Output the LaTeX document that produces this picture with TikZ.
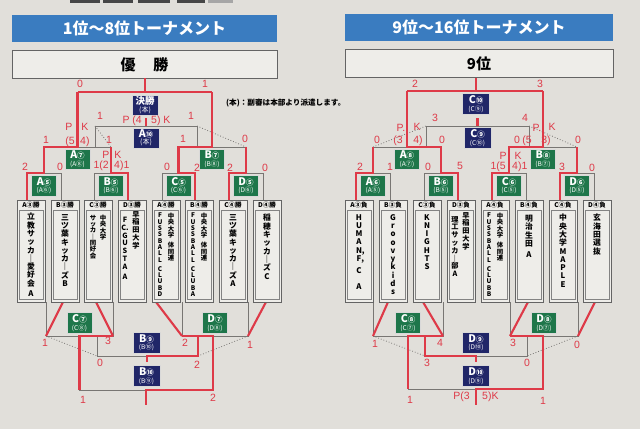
\documentclass[tikz,border=0pt]{standalone}
\usepackage{fontspec}
\setmainfont{Noto Sans CJK JP}
\newfontfamily\handfont{Liberation Sans}
\definecolor{paper}{RGB}{225,223,218}
\definecolor{hdrblue}{RGB}{58,124,192}
\definecolor{navyc}{RGB}{32,38,104}
\definecolor{greenc}{RGB}{30,118,74}
\definecolor{redm}{RGB}{222,58,72}
\definecolor{lineg}{RGB}{120,118,115}
\definecolor{boxfill}{RGB}{238,237,233}
\definecolor{boxline}{RGB}{100,100,100}
\tikzset{
 hdr/.style={fill=hdrblue, text=white, font=\fontsize{16}{16}\selectfont\bfseries, minimum height=27pt, inner sep=0},
 resbox/.style={fill=boxfill, draw=boxline, line width=0.7pt, minimum height=28pt, inner sep=0, font=\fontsize{15}{15}\selectfont\bfseries},
 tag/.style={minimum width=25pt, minimum height=21pt, inner sep=0, text=white, align=center, draw=white!70!gray, line width=0.4pt, font=\fontsize{8}{8.5}\selectfont},
 ntag/.style={tag, fill=navyc},
 gtag/.style={tag, fill=greenc},
 team/.style={draw=boxline, fill=boxfill, minimum width=28pt, minimum height=102pt, inner sep=0, line width=0.5pt},
 tlabel/.style={font=\fontsize{6.5}{6.5}\selectfont\bfseries, inner sep=0},
 innerbox/.style={draw=boxline!80, line width=0.4pt},
 vtext/.style={anchor=north, align=center, inner sep=0, font=\fontsize{7.8}{8.3}\selectfont\bfseries},
 vmid/.style={anchor=north, align=center, inner sep=0, font=\fontsize{7.2}{7.8}\selectfont\bfseries},
 vsmall/.style={anchor=north, align=center, inner sep=0, font=\fontsize{6.4}{6.3}\selectfont\bfseries},
 ln/.style={draw=lineg, line width=0.7pt},
 rl/.style={draw=redm, line width=2.1pt},
 dots/.style={draw=lineg, line width=0.8pt, dotted},
 hw/.style={text=redm, inner sep=0, font=\handfont\fontsize{10.5}{10.5}\selectfont},
}
\newcommand\tagtxt[3]{{\fontsize{10.5}{10}\selectfont\bfseries #1{\fontsize{7.5}{7}\selectfont #2}}\\[-1pt]{\fontsize{6.5}{7}\selectfont (#1#3)}}
\newcommand\mkteam[3]{%
  \node[team] (#1) at (#2,251) {};
  \node[tlabel] (#1l) at (#2,205) {#3};
  \draw[innerbox] (#2-12,210) rectangle (#2+12,299.5);
}
\begin{document}
\begin{tikzpicture}[x=1pt,y=-1pt]
\fill[paper] (0,0) rectangle (640,429);
\useasboundingbox (0,0) rectangle (640,429);
% cut-off items at top edge
\fill[gray!55!black] (70,0) rectangle (100,3);
\fill[gray!55!black] (103,0) rectangle (133,3);
\fill[gray!55!black] (138,0) rectangle (170,3);
\fill[gray!55!black] (177,0) rectangle (205,3);
\fill[gray!70] (208,0) rectangle (233,3);

% headers
\node[hdr, minimum width=265pt] (hdrL) at (144.5,28.5) {1位～8位トーナメント};
\node[hdr, minimum width=268pt] (hdrR) at (479,27.5) {9位～16位トーナメント};
\node[resbox, minimum width=265pt] (resL) at (144.5,64.5) {優\hspace{1.2em}勝};
\node[resbox, minimum width=268pt] (resR) at (479,63.5) {9位};
\node[inner sep=0, anchor=west, font=\fontsize{7.6}{8}\selectfont\bfseries] (note) at (226,103) {(本)：副審は本部より派遣します。};

% ---------- LEFT PANEL: grey structure ----------
\draw[ln] (27,200) |- (61,173) -- (61,200);
\draw[ln] (94,200) |- (128,173) -- (128,200);
\draw[ln] (162,200) |- (195,173) -- (195,200);
\draw[ln] (229,200) |- (263,173) -- (263,200);
\draw[ln] (44,173) |- (111,147) -- (111,173);
\draw[ln] (178.5,173) |- (246,147) -- (246,173);
\draw[ln] (77.5,147) |- (212,92) -- (212,147);
\draw[ln] (145,78) -- (145,92);
\draw[ln] (95,147) |- (197,126) -- (197,147);
\draw[ln] (146,126) -- (146,118);
\draw[dots] (95,126) -- (111,147);
\draw[dots] (197,126) -- (246,147);
% lower
\draw[ln] (46,302) |- (113,336) -- (113,302);
\draw[ln] (182,302) |- (248,336) -- (248,302);
\draw[ln] (79.5,336) |- (213,390) -- (213,336);
\draw[ln] (97,336) |- (198,356) -- (198,336);
\draw[ln] (147,356) -- (147,362);
\draw[ln] (146,390) -- (146,405);
\draw[dots] (46,336) -- (97,356);
\draw[dots] (248,336) -- (198,356);

% ---------- LEFT PANEL: red results ----------
\draw[rl] (27,200) |- (44,173) -- (44,147) -- (77.5,147) -- (77.5,92);
\draw[rl] (128,200) |- (111,173) -- (111,147);
\draw[rl] (195,200) |- (178.5,173) -- (178.5,147) -- (212,147) -- (212,92);
\draw[rl] (229,200) |- (246,173) -- (246,147);
\draw[rl] (77.5,92) -- (212,92);
\draw[rl] (145,92) -- (145,78);
\draw[rl] (146,126) -- (146,118);
\draw[rl] (63,302) -- (46,336);
\draw[rl] (96,302) -- (113,336);
\draw[rl] (156,302) -- (182,336);
\draw[rl] (266,302) -- (248,336);
\draw[rl] (113,336) -- (79.5,336) -- (79.5,390);
\draw[rl] (182,336) -- (213,336) -- (213,390) -- (146,390) -- (146,405);
\draw[rl] (198,336) -- (198,356) -- (147,356) -- (147,362);

% ---------- RIGHT PANEL: grey structure ----------
\draw[ln] (356,200) |- (390,173) -- (390,200);
\draw[ln] (424,200) |- (458,173) -- (458,200);
\draw[ln] (492,200) |- (526,173) -- (526,200);
\draw[ln] (560,200) |- (594,173) -- (594,200);
\draw[ln] (373,173) |- (441,147) -- (441,173);
\draw[ln] (509,173) |- (577,147) -- (577,173);
\draw[ln] (407,147) |- (543,91) -- (543,147);
\draw[ln] (476,77.5) -- (476,91);
\draw[ln] (426,147) |- (529,126) -- (529,147);
\draw[ln] (477.5,126) -- (477.5,118);
\draw[dots] (373,147) -- (426,126);
\draw[dots] (529,126) -- (577,147);
% lower
\draw[ln] (373,302) |- (443,336) -- (443,302);
\draw[ln] (510,302) |- (578,336) -- (578,302);
\draw[ln] (408,336) |- (543,389) -- (543,336);
\draw[ln] (425,336) |- (527,356) -- (527,336);
\draw[ln] (476,356) -- (476,362);
\draw[ln] (476,389) -- (476,405);
\draw[dots] (373,336) -- (425,356);
\draw[dots] (578,336) -- (527,356);

% ---------- RIGHT PANEL: red results ----------
\draw[rl] (356,200) |- (373,173) -- (373,147);
\draw[rl] (458,200) |- (441,173) -- (441,147) -- (407,147) -- (407,91);
\draw[rl] (492,200) |- (509,173) -- (509,147) -- (543,147) -- (543,91);
\draw[rl] (560,200) |- (577,173) -- (577,147);
\draw[rl] (407,91) -- (543,91);
\draw[rl] (476,91) -- (476,77.5);
\draw[rl] (477.5,126) -- (477.5,118);
\draw[rl] (388,302) -- (373,336);
\draw[rl] (423,302) -- (443,336);
\draw[rl] (528,302) -- (510,336);
\draw[rl] (595,302) -- (578,336);
\draw[rl] (443,336) -- (408,336) -- (408,389);
\draw[rl] (510,336) -- (543,336) -- (543,389) -- (476,389) -- (476,405);
\draw[rl] (425,336) -- (425,356) -- (476,356) -- (476,362);

% ---------- tags ----------
\node[ntag, minimum width=26pt, minimum height=20pt] (fin) at (145,105) {{\fontsize{9.5}{10}\selectfont\bfseries 決勝}\\[-1pt]{\fontsize{7}{7}\selectfont (本)}};
\node[ntag, minimum width=26pt, minimum height=20pt] (lA10) at (146,138) {{\fontsize{10.5}{10}\selectfont\bfseries A{\fontsize{7.5}{7}\selectfont ⑩}}\\[-1pt]{\fontsize{7}{7}\selectfont (本)}};
\node[gtag] (lA5) at (44,185.5) {\tagtxt{A}{⑤}{⑥}};
\node[gtag] (lB5) at (111,185.5) {\tagtxt{B}{⑤}{⑥}};
\node[gtag] (lC5) at (178.5,185.5) {\tagtxt{C}{⑤}{⑥}};
\node[gtag] (lD5) at (246,185.5) {\tagtxt{D}{⑤}{⑥}};
\node[gtag, minimum height=20pt] (lA7) at (77.5,159) {\tagtxt{A}{⑦}{⑧}};
\node[gtag, minimum height=20pt] (lB7) at (212,159) {\tagtxt{B}{⑦}{⑧}};
\node[gtag] (lC7) at (79.5,323) {\tagtxt{C}{⑦}{⑧}};
\node[gtag] (lD7) at (215,323) {\tagtxt{D}{⑦}{⑧}};
\node[ntag, minimum width=27pt] (lB9) at (146.5,342.5) {\tagtxt{B}{⑨}{⑩}};
\node[ntag, minimum width=27pt] (lB10) at (146.5,376) {\tagtxt{B}{⑩}{⑨}};

\node[ntag, minimum width=27pt] (rC10) at (476,104) {\tagtxt{C}{⑩}{⑨}};
\node[ntag, minimum width=27pt] (rC9) at (477.5,138) {\tagtxt{C}{⑨}{⑩}};
\node[gtag] (rA6) at (373,185.5) {\tagtxt{A}{⑥}{⑤}};
\node[gtag] (rB6) at (441,185.5) {\tagtxt{B}{⑥}{⑤}};
\node[gtag] (rC6) at (509,185.5) {\tagtxt{C}{⑥}{⑤}};
\node[gtag] (rD6) at (577,185.5) {\tagtxt{D}{⑥}{⑤}};
\node[gtag, minimum height=20pt] (rA8) at (407,159) {\tagtxt{A}{⑧}{⑦}};
\node[gtag, minimum height=20pt] (rB8) at (543,159) {\tagtxt{B}{⑧}{⑦}};
\node[gtag] (rC8) at (408,323) {\tagtxt{C}{⑧}{⑦}};
\node[gtag] (rD8) at (544,323) {\tagtxt{D}{⑧}{⑦}};
\node[ntag, minimum width=27pt] (rD9) at (476,342.5) {\tagtxt{D}{⑨}{⑩}};
\node[ntag, minimum width=27pt] (rD10) at (476,376) {\tagtxt{D}{⑩}{⑨}};

% ---------- team boxes: left ----------
\mkteam{tL1}{31}{A③勝}
\mkteam{tL2}{65}{B③勝}
\mkteam{tL3}{98}{C③勝}
\mkteam{tL4}{132}{D③勝}
\mkteam{tL5}{166}{A④勝}
\mkteam{tL6}{199}{B④勝}
\mkteam{tL7}{233}{C④勝}
\mkteam{tL8}{267}{D④勝}
\node[vtext] (vL1) at (31,213) {立\\教\\サ\\ッ\\カ\\｜\\愛\\好\\会\\[2pt]A};
\node[vtext] (vL2) at (65,214) {三\\ツ\\葉\\キ\\ッ\\カ\\｜\\ズ\\B};
\node[vsmall] (vL3a) at (103,215) {中\\央\\大\\学};
\node[vsmall] (vL3b) at (93,215) {サ\\ッ\\カ\\｜\\同\\好\\会};
\node[vmid] (vL4a) at (136,211) {早\\稲\\田\\大\\学};
\node[vmid] (vL4b) at (125,217) {F\\C.\\G\\U\\S\\T\\A\\[2pt]A};
\node[vsmall] (vL5a) at (171,213) {中\\央\\大\\学\\[4pt]体\\同\\連};
\node[vsmall] (vL5b) at (160,213) {F\\U\\S\\S\\B\\A\\L\\L\\[3pt]C\\L\\U\\B\\D};
\node[vsmall] (vL6a) at (204,213) {中\\央\\大\\学\\[4pt]体\\同\\連};
\node[vsmall] (vL6b) at (193,213) {F\\U\\S\\S\\B\\A\\L\\L\\[3pt]C\\L\\U\\B\\A};
\node[vtext] (vL7) at (233,214) {三\\ツ\\葉\\キ\\ッ\\カ\\｜\\ズ\\A};
\node[vtext] (vL8) at (267,214) {稲\\穂\\キ\\ッ\\カ\\｜\\ズ\\[1pt]C};

% ---------- team boxes: right ----------
\mkteam{tR1}{359}{A③負}
\mkteam{tR2}{393}{B③負}
\mkteam{tR3}{427}{C③負}
\mkteam{tR4}{461}{D③負}
\mkteam{tR5}{495}{A④負}
\mkteam{tR6}{529}{B④負}
\mkteam{tR7}{563}{C④負}
\mkteam{tR8}{597}{D④負}
\node[vtext] (vR1) at (359,214) {H\\U\\M\\A\\N\rlap{,}\\F\rlap{,}\\[4pt]C\\[7pt]A};
\node[vtext] (vR2) at (393,214) {G\\r\\o\\o\\v\\y\\k\\i\\d\\s};
\node[vtext] (vR3) at (427,214) {K\\N\\I\\G\\H\\T\\S};
\node[vmid] (vR4a) at (466,212) {早\\稲\\田\\大\\学};
\node[vmid] (vR4b) at (455,216) {理\\工\\サ\\ッ\\カ\\｜\\部\\A};
\node[vsmall] (vR5a) at (500,213) {中\\央\\大\\学\\[4pt]体\\同\\連};
\node[vsmall] (vR5b) at (489,213) {F\\U\\S\\S\\B\\A\\L\\L\\[3pt]C\\L\\U\\B\\B};
\node[vtext] (vR6) at (529,215) {明\\治\\生\\田\\[3pt]A};
\node[vtext] (vR7) at (563,214) {中\\央\\大\\学\\M\\A\\P\\L\\E};
\node[vtext] (vR8) at (597,214) {玄\\海\\田\\選\\抜};

% ---------- handwritten scores: left ----------
\node[hw] (hl1) at (80,84) {0};
\node[hw] (hl2) at (205,84) {1};
\node[hw] (hl3) at (100,116) {1};
\node[hw,anchor=east] (hl4) at (142,121) {P (4};
\node[hw,anchor=west] (hl5) at (151,121) {5) K};
\node[hw] (hl6) at (191,116) {1};
\node[hw] (hl7) at (69,127) {P};
\node[hw] (hl8) at (85,127) {K};
\node[hw,anchor=east] (hl9) at (75,142) {(5};
\node[hw,anchor=west] (hl10) at (80,142) {4)};
\node[hw] (hl11) at (46,140) {1};
\node[hw] (hl12) at (109,140) {1};
\node[hw] (hl13) at (25,167) {2};
\node[hw] (hl14) at (60,167) {0};
\node[hw] (hl15) at (106,155) {P};
\node[hw] (hl16) at (118,155) {K};
\node[hw,anchor=east] (hl17) at (109,166) {1(2};
\node[hw,anchor=west] (hl18) at (114,166) {4)1};
\node[hw] (hl19) at (167,167) {0};
\node[hw] (hl20) at (183,139) {1};
\node[hw] (hl21) at (197,168) {2};
\node[hw] (hl22) at (245,139) {0};
\node[hw] (hl23) at (230,168) {2};
\node[hw] (hl24) at (265,168) {0};
\node[hw] (hl25) at (45,343) {1};
\node[hw] (hl26) at (108,341) {3};
\node[hw] (hl27) at (100,363) {0};
\node[hw] (hl28) at (185,343) {2};
\node[hw] (hl29) at (250,345) {1};
\node[hw] (hl30) at (197,365) {2};
\node[hw] (hl31) at (83,400) {1};
\node[hw] (hl32) at (213,398) {2};

% ---------- handwritten scores: right ----------
\node[hw] (hr1) at (415,84) {2};
\node[hw] (hr2) at (540,84) {3};
\node[hw] (hr3) at (435,118) {3};
\node[hw] (hr4) at (525,118) {4};
\node[hw] (hr5) at (401,128) {P.};
\node[hw] (hr6) at (417,127) {K};
\node[hw] (hr7) at (377,140) {0};
\node[hw] (hr8) at (398,141) {(3};
\node[hw] (hr9) at (418,141) {4)};
\node[hw] (hr10) at (442,140) {0};
\node[hw] (hr11) at (517,140) {0};
\node[hw] (hr12) at (527,141) {(5};
\node[hw] (hr13) at (546,141) {3)};
\node[hw] (hr14) at (578,140) {0};
\node[hw] (hr15) at (537,128) {P.};
\node[hw] (hr16) at (552,127) {K};
\node[hw] (hr17) at (360,167) {2};
\node[hw] (hr18) at (390,167) {1};
\node[hw] (hr19) at (428,167) {0};
\node[hw] (hr20) at (460,166) {5};
\node[hw] (hr21) at (503,156) {P};
\node[hw] (hr22) at (518,156) {K};
\node[hw,anchor=east] (hr23) at (506,167) {1(5};
\node[hw,anchor=west] (hr24) at (512,167) {4)1};
\node[hw] (hr25) at (562,167) {3};
\node[hw] (hr26) at (592,168) {0};
\node[hw] (hr27) at (375,344) {1};
\node[hw] (hr28) at (440,343) {4};
\node[hw] (hr29) at (427,363) {3};
\node[hw] (hr30) at (527,363) {0};
\node[hw] (hr31) at (513,343) {3};
\node[hw] (hr32) at (577,345) {0};
\node[hw] (hr33) at (410,400) {1};
\node[hw,anchor=east] (hr34) at (470,397) {P(3};
\node[hw,anchor=west] (hr35) at (482,397) {5)K};
\node[hw] (hr36) at (543,401) {1};
\end{tikzpicture}
\end{document}
